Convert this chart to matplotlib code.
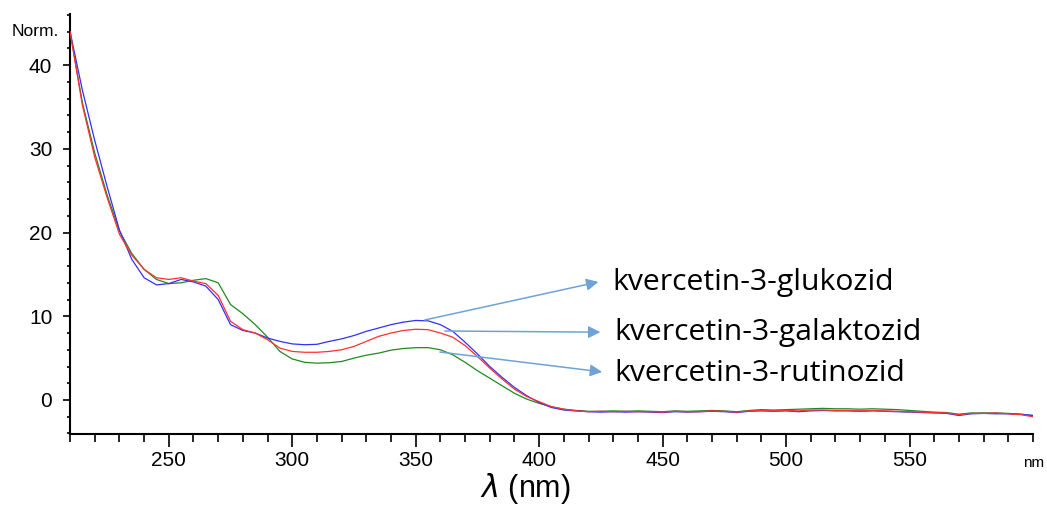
import numpy as np
import matplotlib
matplotlib.use("Agg")
import matplotlib.pyplot as plt
from matplotlib.ticker import MultipleLocator

wavelength = list(range(210, 601, 5))

glukozid = [44.0, 37.0, 31.0, 25.5, 20.3, 16.8, 14.6, 13.75, 13.9, 14.4, 14.1,
            13.6, 12.0, 9.0, 8.3, 8.0, 7.4, 7.0, 6.7, 6.6, 6.65,
            7.0, 7.3, 7.7, 8.2, 8.6, 9.0, 9.3, 9.5, 9.45, 9.0,
            8.2, 6.9, 5.5, 4.0, 2.7, 1.5, 0.5, -0.3, -0.9, -1.2,
            -1.3, -1.4, -1.45, -1.4, -1.45, -1.4, -1.45, -1.5, -1.4, -1.45,
            -1.4, -1.35, -1.4, -1.5, -1.35, -1.3, -1.35, -1.3, -1.4, -1.3,
            -1.25, -1.3, -1.3, -1.35, -1.3, -1.35, -1.4, -1.45, -1.5, -1.55,
            -1.6, -1.85, -1.65, -1.6, -1.65, -1.65, -1.7, -1.85]

galaktozid = [44.0, 35.2, 29.0, 24.2, 19.8, 17.3, 15.6, 14.6, 14.4, 14.6, 14.2,
              13.9, 12.5, 9.4, 8.4, 8.0, 7.2, 6.2, 5.8, 5.7, 5.7,
              5.8, 6.0, 6.4, 7.0, 7.6, 8.0, 8.3, 8.45, 8.4, 8.0,
              7.5, 6.5, 5.2, 3.8, 2.5, 1.3, 0.4, -0.2, -0.8, -1.1,
              -1.3, -1.4, -1.35, -1.4, -1.35, -1.4, -1.4, -1.45, -1.35, -1.4,
              -1.4, -1.3, -1.35, -1.45, -1.3, -1.25, -1.3, -1.25, -1.3, -1.2,
              -1.2, -1.25, -1.25, -1.3, -1.25, -1.3, -1.35, -1.4, -1.45, -1.5,
              -1.55, -1.75, -1.6, -1.6, -1.55, -1.65, -1.75, -2.0]

rutinozid = [44.0, 35.5, 29.5, 24.5, 20.2, 17.5, 15.6, 14.4, 13.9, 14.0, 14.3,
             14.5, 14.0, 11.4, 10.3, 9.0, 7.5, 5.8, 4.9, 4.5, 4.4,
             4.45, 4.6, 5.0, 5.35, 5.6, 5.95, 6.15, 6.25, 6.25, 6.0,
             5.4, 4.5, 3.5, 2.6, 1.7, 0.8, 0.1, -0.4, -0.8, -1.1,
             -1.25, -1.35, -1.35, -1.3, -1.35, -1.3, -1.35, -1.4, -1.3, -1.35,
             -1.3, -1.25, -1.3, -1.4, -1.25, -1.15, -1.2, -1.15, -1.1, -1.05,
             -1.0, -1.05, -1.05, -1.1, -1.05, -1.1, -1.15, -1.25, -1.35, -1.45,
             -1.5, -1.7, -1.55, -1.55, -1.55, -1.6, -1.7, -1.85]

labels = ["kvercetin-3-glukozid", "kvercetin-3-galaktozid", "kvercetin-3-rutinozid"]
arrow_start = [(353.7, 9.56), (361.8, 8.24), (359.8, 5.73)]
arrow_end = [(424.0, 14.1), (424.8, 8.1), (425.5, 3.35)]
label_pos = [(429.5, 14.0), (430.6, 8.1), (430.6, 3.2)]

x_major = [250, 300, 350, 400, 450, 500, 550]
y_major = [0, 10, 20, 30, 40]

fig = plt.figure(figsize=(10.47, 5.08), dpi=100)
ax = fig.add_axes([0.0669, 0.1457, 0.9197, 0.8267])

ax.plot(wavelength, rutinozid, color="#1f8a1f", lw=0.9, zorder=3)
ax.plot(wavelength, glukozid, color="#3030ff", lw=0.9, zorder=4)
ax.plot(wavelength, galaktozid, color="#ff3030", lw=0.9, zorder=5)

ax.set_xlim(210, 600)
ax.set_ylim(-4.06, 46.1)

for s in ["top", "right"]:
    ax.spines[s].set_visible(False)
for s in ["left", "bottom"]:
    ax.spines[s].set_linewidth(1.5)

ax.set_xticks(x_major)
ax.set_xticklabels([str(v) for v in x_major], fontsize=15, family="Liberation Sans")
ax.xaxis.set_minor_locator(MultipleLocator(10))
ax.set_yticks(y_major)
ax.set_yticklabels([str(v) for v in y_major], fontsize=15, family="Liberation Sans")
ax.yaxis.set_minor_locator(MultipleLocator(2))

ax.tick_params(axis="x", which="major", direction="out", length=9, width=1.2, pad=3)
ax.tick_params(axis="x", which="minor", direction="out", length=5.5, width=1.2)
ax.tick_params(axis="y", which="major", direction="out", length=4.8, width=1.2, pad=8)
ax.tick_params(axis="y", which="minor", direction="out", length=2.2, width=1.2)

for (x0, y0), (x1, y1) in zip(arrow_start, arrow_end):
    ax.annotate("", xy=(x1, y1), xytext=(x0, y0),
                arrowprops=dict(arrowstyle="-|>", color="#6fa3d8", lw=1.1,
                                mutation_scale=18, shrinkA=0, shrinkB=0),
                zorder=6)

for (lx, ly), t in zip(label_pos, labels):
    ax.text(lx, ly, t, fontsize=21.7, family="Open Sans", va="center", ha="left", zorder=7)

fig.text(12 / 1047, 1 - 32 / 508, "Norm.", fontsize=12.5, family="Liberation Sans",
         va="center", ha="left")
fig.text(1044 / 1047, 1 - 463 / 508, "nm", fontsize=11, family="Liberation Sans",
         va="center", ha="right")
fig.text(525 / 1047, 1 - 488 / 508, r"$\lambda$ (nm)", fontsize=22,
         family="Liberation Sans", va="center", ha="center")

fig.savefig("out.png", dpi=100)
